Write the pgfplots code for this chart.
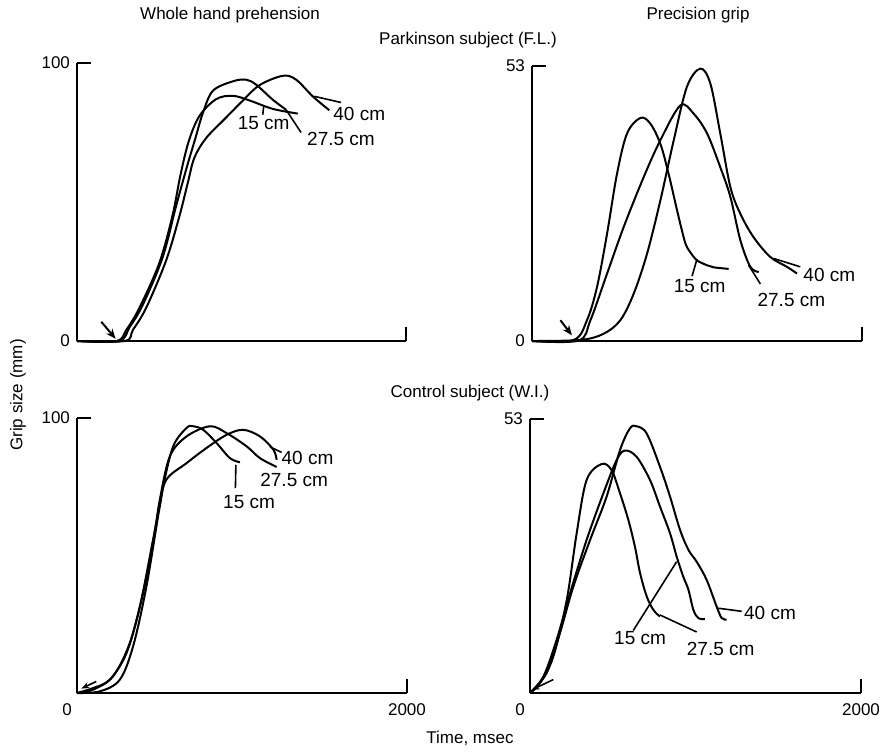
\documentclass[border=0pt]{standalone}
\usepackage{fontspec}
\setmainfont{Liberation Sans}
\usepackage{pgfplots}
\pgfplotsset{compat=1.18}
\usetikzlibrary{arrows.meta}

\tikzset{lab/.style={font=\fontsize{9.5}{11}\selectfont, inner sep=0pt},
  crv/.style={black, line width=1pt, smooth, tension=0.55, mark=none}}
\pgfplotsset{
  panel/.style={
    scale only axis, anchor=south west,
    xmin=0, xmax=2000, ymin=0,
    axis x line=bottom, axis y line=left,
    axis line style={-, line width=1pt},
    tick align=inside, major tick length=7pt,
    tick style={line width=1pt, black},
    clip=false,
    /pgf/number format/assume math mode=true,
    /pgf/number format/1000 sep={},
    ticklabel style={font=\fontsize{8.5}{10}\selectfont},
  },
}

\begin{document}
\begin{tikzpicture}
\useasboundingbox (0,0) rectangle (441.5pt,376pt);

% ---- Parkinson, whole hand ----
\begin{axis}[panel, at={(38.5pt,205.5pt)}, width=164.5pt, height=139pt,
  ymax=100, xtick={2000}, xticklabels={}, ytick={0,100}]
\addplot[crv] coordinates {(0,0)(240,0)(300,4)(380,12)(500,28)(580,45)(630,60)(680,72)(745,81)(846,87)(947,88.2)(1050,86.5)(1190,83.5)(1342,81.8)};
\addplot[crv] coordinates {(0,0)(255,0)(320,5)(400,13)(520,30)(600,48)(665,62)(720,73)(765,82)(826,90)(947,93.4)(1028,94)(1089,92.2)(1190,86.8)(1271,83.2)};
\addplot[crv] coordinates {(0,0)(290,0)(340,4)(421,12)(542,29)(623,45)(674,57)(714,66)(785,73)(900,80)(1000,86)(1109,92)(1251,95.4)(1332,94)(1433,88)(1534,83)};
\draw[line width=0.8pt] (axis cs:1129,81.4) -- (axis cs:1135,84.4);
\draw[line width=0.8pt] (axis cs:1271,83.2) -- (axis cs:1362,75);
\draw[line width=0.8pt] (axis cs:1443,88) -- (axis cs:1605,85.8);
\node[lab] at (axis cs:1135,78.5) {15 cm};
\node[lab] at (axis cs:1605,72.7) {27.5 cm};
\node[lab] at (axis cs:1716,81.5) {40 cm};
\draw[line width=1pt, -{Stealth[length=5pt,width=4pt]}] (axis cs:148,6.9) -- (axis cs:235,0.8);
\end{axis}

% ---- Parkinson, precision grip ----
\begin{axis}[panel, at={(266pt,205.5pt)}, width=165pt, height=137.5pt,
  ymax=53, xtick={2000}, xticklabels={}, ytick={0,53}]
\addplot[crv] coordinates {(0,0)(252,0.2)(333,4.0)(394,10.4)(455,20.7)(515,32.2)(576,40.0)(657,43.0)(717,41.9)(778,38.0)(828,32.2)(879,25.2)(919,20.0)(939,18.1)(980,16.2)(1000,15.5)(1060,14.6)(1101,14.2)(1192,13.9)};
\addplot[crv] coordinates {(0,0)(283,0.1)(354,4.0)(455,13.0)(556,22.0)(677,31.6)(778,38.7)(899,45.4)(980,43.8)(1061,40.0)(1141,33.5)(1202,27.8)(1263,19.4)(1323,14.3)(1374,13.3)};
\addplot[crv] coordinates {(0,0)(293,0.2)(434,1.4)(535,4.0)(616,9.1)(697,16.8)(778,27.1)(859,38.7)(939,49.0)(1020,52.5)(1081,49.6)(1141,40.0)(1202,29.7)(1263,24.5)(1343,20.0)(1444,16.2)(1545,14.3)(1606,13.0)};
\draw[line width=0.8pt] (axis cs:970,12.5) -- (axis cs:1000,15.8);
\draw[line width=0.8pt] (axis cs:1384,11.0) -- (axis cs:1313,14.6);
\draw[line width=0.8pt] (axis cs:1626,14.3) -- (axis cs:1465,15.9);
\node[lab] at (axis cs:1016,10.6) {15 cm};
\node[lab] at (axis cs:1572,8.0) {27.5 cm};
\node[lab] at (axis cs:1802,12.7) {40 cm};
\draw[line width=1pt, -{Stealth[length=5pt,width=4pt]}] (axis cs:172,4.0) -- (axis cs:242,1.1);
\end{axis}

% ---- Control, whole hand ----
\begin{axis}[panel, at={(38.5pt,29.5pt)}, width=165pt, height=137.5pt,
  ymax=100, xtick={0,2000}, ytick={0,100}, yticklabels={,100},
  xticklabels={\hspace*{-10pt}0,2000},
  xticklabel style={yshift=-2pt}]
\addplot[crv] coordinates {(0,0)(97,1.8)(198,4.8)(300,14.5)(381,31.5)(461,55.8)(522,75.1)(583,89.7)(664,96.4)(704,97.0)(765,95.7)(846,90.9)(927,85.4)(988,83.9)};
\addplot[crv] coordinates {(0,0)(97,1.2)(219,6.1)(320,18.2)(401,36.4)(461,54.5)(502,70.3)(563,86.1)(664,93.3)(806,97.0)(907,94.5)(1028,89.7)(1109,85.4)(1210,82.2)};
\addplot[crv] coordinates {(0,0)(138,0.6)(259,4.8)(340,17.0)(421,38.8)(502,67.9)(542,77.6)(664,83.6)(785,89.1)(907,93.9)(1008,95.7)(1109,93.3)(1190,88.5)(1210,84.8)};
\draw[line width=0.8pt] (axis cs:963,83.0) -- (axis cs:960,74.5);
\draw[line width=0.8pt] (axis cs:1170,89.5) -- (axis cs:1240,87.5);
\node[lab] at (axis cs:1043,69.5) {15 cm};
\node[lab] at (axis cs:1316,77.6) {27.5 cm};
\node[lab] at (axis cs:1397,85.4) {40 cm};
\draw[line width=0.8pt, -{Stealth[length=4pt,width=3pt]}] (axis cs:117,4.2) -- (axis cs:26,1.6);
\end{axis}

% ---- Control, precision grip ----
\begin{axis}[panel, at={(265pt,29.5pt)}, width=165.5pt, height=137pt,
  ymax=53, xtick={0,2000}, ytick={0,53}, yticklabels={,53},
  xticklabels={\hspace*{-10pt}0,2000},
  xticklabel style={yshift=-2pt}]
\addplot[crv] coordinates {(0,0)(60,1.9)(141,7.1)(222,18.0)(282,30.9)(342,41.2)(433,44.3)(493,43.1)(544,38.6)(594,33.5)(634,28.3)(665,23.2)(705,18.7)(745,16.1)(785,14.8)};
\addplot[crv] coordinates {(0,0)(81,3.2)(161,10.3)(242,19.3)(342,29.6)(443,38.6)(524,45.1)(574,46.9)(644,45.7)(725,41.2)(785,36.1)(846,30.9)(886,26.4)(926,22.5)(957,20.0)(987,16.1)(1017,14.5)(1057,14.3)};
\addplot[crv] coordinates {(0,0)(101,3.9)(181,11.6)(262,20.6)(363,29.6)(463,38.0)(544,47.0)(604,51.2)(644,51.6)(705,50.2)(785,43.8)(846,38.0)(906,31.6)(957,27.7)(1007,25.4)(1067,21.9)(1128,16.7)(1158,14.5)(1188,14.2)};
\draw[line width=0.8pt] (axis cs:624,12.1) -- (axis cs:886,25.4);
\draw[line width=0.8pt] (axis cs:785,15.1) -- (axis cs:1007,11.8);
\draw[line width=0.8pt] (axis cs:1138,16.4) -- (axis cs:1279,15.8);
\node[lab] at (axis cs:665,10.6) {15 cm};
\node[lab] at (axis cs:1152,8.6) {27.5 cm};
\node[lab] at (axis cs:1450,15.5) {40 cm};
\draw[line width=0.8pt, -{Stealth[length=4pt,width=3pt]}] (axis cs:141,2.6) -- (axis cs:10,0.6);
\end{axis}

% ---- titles ----
\node[font=\fontsize{8.5}{10}\selectfont] at (115pt,368.5pt) {Whole hand prehension};
\node[font=\fontsize{8.5}{10}\selectfont] at (349pt,368.5pt) {Precision grip};
\node[font=\fontsize{8.5}{10}\selectfont] at (234pt,356pt) {Parkinson subject (F.L.)};
\node[font=\fontsize{8.5}{10}\selectfont] at (235pt,179.5pt) {Control subject (W.I.)};
\node[font=\fontsize{8.5}{10}\selectfont, rotate=90] at (9pt,178.5pt) {Grip size (mm)};
\node[font=\fontsize{8.5}{10}\selectfont] at (235pt,7pt) {Time, msec};
\end{tikzpicture}
\end{document}
